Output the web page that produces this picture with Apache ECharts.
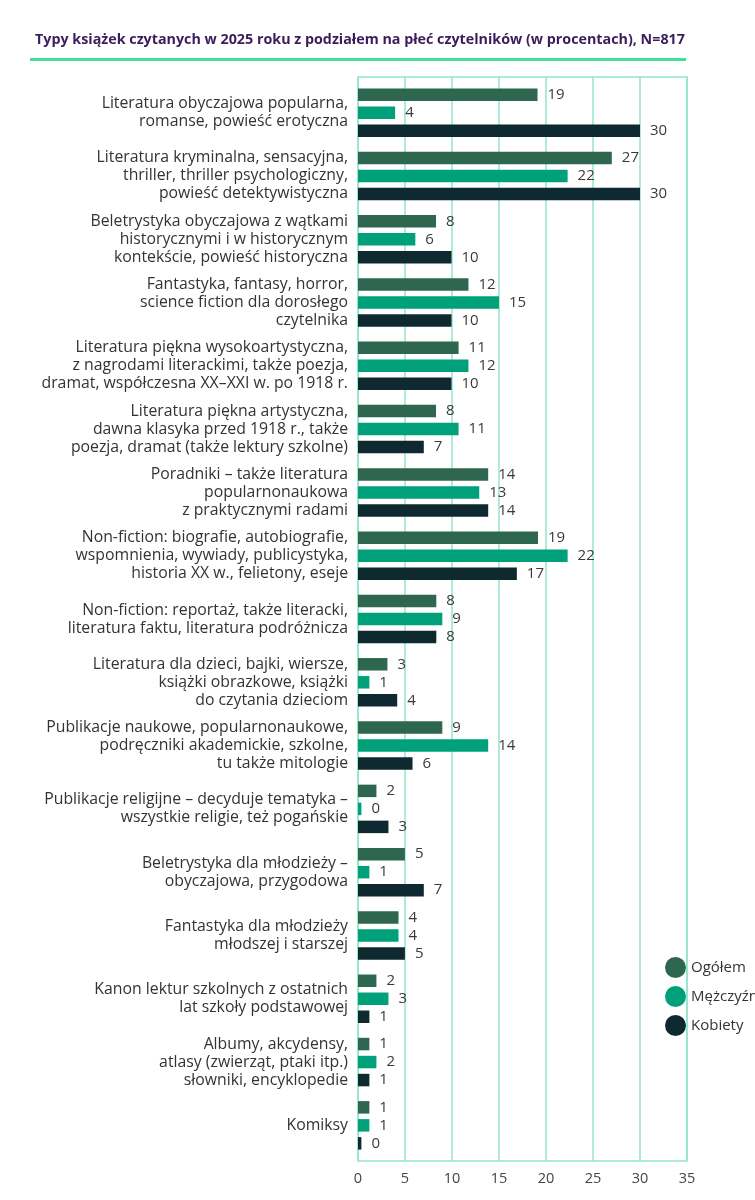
<!DOCTYPE html>
<html>
<head>
<meta charset="utf-8">
<script src="https://cdn.jsdelivr.net/npm/echarts@6/dist/echarts.min.js"></script>
<style>html,body{margin:0;padding:0;background:#fff;}#c{width:755px;height:1200px;}</style>
</head>
<body>
<div id="c"></div>
<script>
const titleText = 'Typy książek czytanych w 2025 roku z podziałem na płeć czytelników (w procentach), N=817';
const categories = [
  'Literatura obyczajowa popularna,\nromanse, powieść erotyczna',
  'Literatura kryminalna, sensacyjna,\nthriller, thriller psychologiczny,\npowieść detektywistyczna',
  'Beletrystyka obyczajowa z wątkami\nhistorycznymi i w historycznym\nkontekście, powieść historyczna',
  'Fantastyka, fantasy, horror,\nscience fiction dla dorosłego\nczytelnika',
  'Literatura piękna wysokoartystyczna,\nz nagrodami literackimi, także poezja,\ndramat, współczesna XX–XXI w. po 1918 r.',
  'Literatura piękna artystyczna,\ndawna klasyka przed 1918 r., także\npoezja, dramat (także lektury szkolne)',
  'Poradniki – także literatura\npopularnonaukowa\nz praktycznymi radami',
  'Non-fiction: biografie, autobiografie,\nwspomnienia, wywiady, publicystyka,\nhistoria XX w., felietony, eseje',
  'Non-fiction: reportaż, także literacki,\nliteratura faktu, literatura podróżnicza',
  'Literatura dla dzieci, bajki, wiersze,\nksiążki obrazkowe, książki\ndo czytania dzieciom',
  'Publikacje naukowe, popularnonaukowe,\npodręczniki akademickie, szkolne,\ntu także mitologie',
  'Publikacje religijne – decyduje tematyka –\nwszystkie religie, też pogańskie',
  'Beletrystyka dla młodzieży –\nobyczajowa, przygodowa',
  'Fantastyka dla młodzieży\nmłodszej i starszej',
  'Kanon lektur szkolnych z ostatnich\nlat szkoły podstawowej',
  'Albumy, akcydensy,\natlasy (zwierząt, ptaki itp.)\nsłowniki, encyklopedie',
  'Komiksy'
];
const seriesNames = ['Ogółem', 'Mężczyźni', 'Kobiety'];
const ogolem    = [19.1, 27.0, 8.3, 11.75, 10.7, 8.3, 13.85, 19.15, 8.33, 3.13, 8.97, 1.96, 4.99, 4.31, 1.96, 1.21, 1.21];
const mezczyzni = [3.95, 22.3, 6.1, 15.0, 11.75, 10.7, 12.9, 22.3, 8.97, 1.21, 13.85, 0.36, 1.21, 4.31, 3.24, 1.96, 1.21];
const kobiety   = [30.0, 30.0, 9.95, 9.95, 9.95, 7.0, 13.85, 16.9, 8.33, 4.17, 5.8, 3.24, 7.0, 4.99, 1.21, 1.21, 0.36];
const xTicksMax = 35;
const xTickStep = 5;

const colors = ['#2e6650', '#00a07b', '#0f2930'];
const FONT = '"Open Sans", "Noto Sans", sans-serif';
const chart = echarts.init(document.getElementById('c'), null, {renderer: 'canvas'});

function barSeries(name, data, i) {
  return {
    name: name, type: 'bar', data: data,
    xAxisIndex: 0, yAxisIndex: 0,
    barWidth: 12.5, barGap: '44%',
    itemStyle: {color: colors[i]},
    label: {
      show: true, position: 'right', distance: 10,
      color: '#3a3a3a', fontSize: 15, fontFamily: FONT,
      formatter: p => String(Math.round(p.value))
    },
    emphasis: {disabled: true},
    animation: false
  };
}

chart.setOption({
  animation: false,
  color: colors,
  title: {
    text: titleText, left: 30, top: 28,
    textStyle: {fontSize: 14.3, fontWeight: 'bold', color: '#3b1d5c', fontFamily: FONT}
  },
  graphic: [{type: 'rect', left: 30, top: 58, shape: {width: 656, height: 3}, style: {fill: '#3ee09e'}}],
  legend: {
    orient: 'vertical', left: 660, top: 952,
    icon: 'circle', itemWidth: 21, itemHeight: 21, itemGap: 8,
    data: seriesNames,
    textStyle: {fontSize: 15, color: '#333', fontFamily: FONT}
  },
  grid: [
    {left: 358, right: 68, top: 81, height: 1076},
    {left: 358, right: 68, top: 77, height: 1084, show: true, borderColor: '#93e6cb', borderWidth: 1.5, backgroundColor: 'transparent'}
  ],
  xAxis: [
    {gridIndex: 0, type: 'value', min: 0, max: xTicksMax, interval: xTickStep, show: false},
    {gridIndex: 1, type: 'value', min: 0, max: xTicksMax, interval: xTickStep,
     axisLine: {show: false}, axisTick: {show: false},
     splitLine: {show: true, lineStyle: {color: '#93e6cb', width: 1.5}},
     axisLabel: {color: '#444', fontSize: 14.5, margin: 10, fontFamily: FONT}}
  ],
  yAxis: [
    {gridIndex: 0, type: 'category', data: categories, inverse: true,
     axisLine: {show: false}, axisTick: {show: false},
     axisLabel: {color: '#333', fontSize: 15.8, lineHeight: 18, align: 'right', margin: 10, fontFamily: FONT}},
    {gridIndex: 1, type: 'category', data: [''], show: false}
  ],
  series: [
    barSeries(seriesNames[0], ogolem, 0),
    barSeries(seriesNames[1], mezczyzni, 1),
    barSeries(seriesNames[2], kobiety, 2)
  ]
});
</script>
</body>
</html>
